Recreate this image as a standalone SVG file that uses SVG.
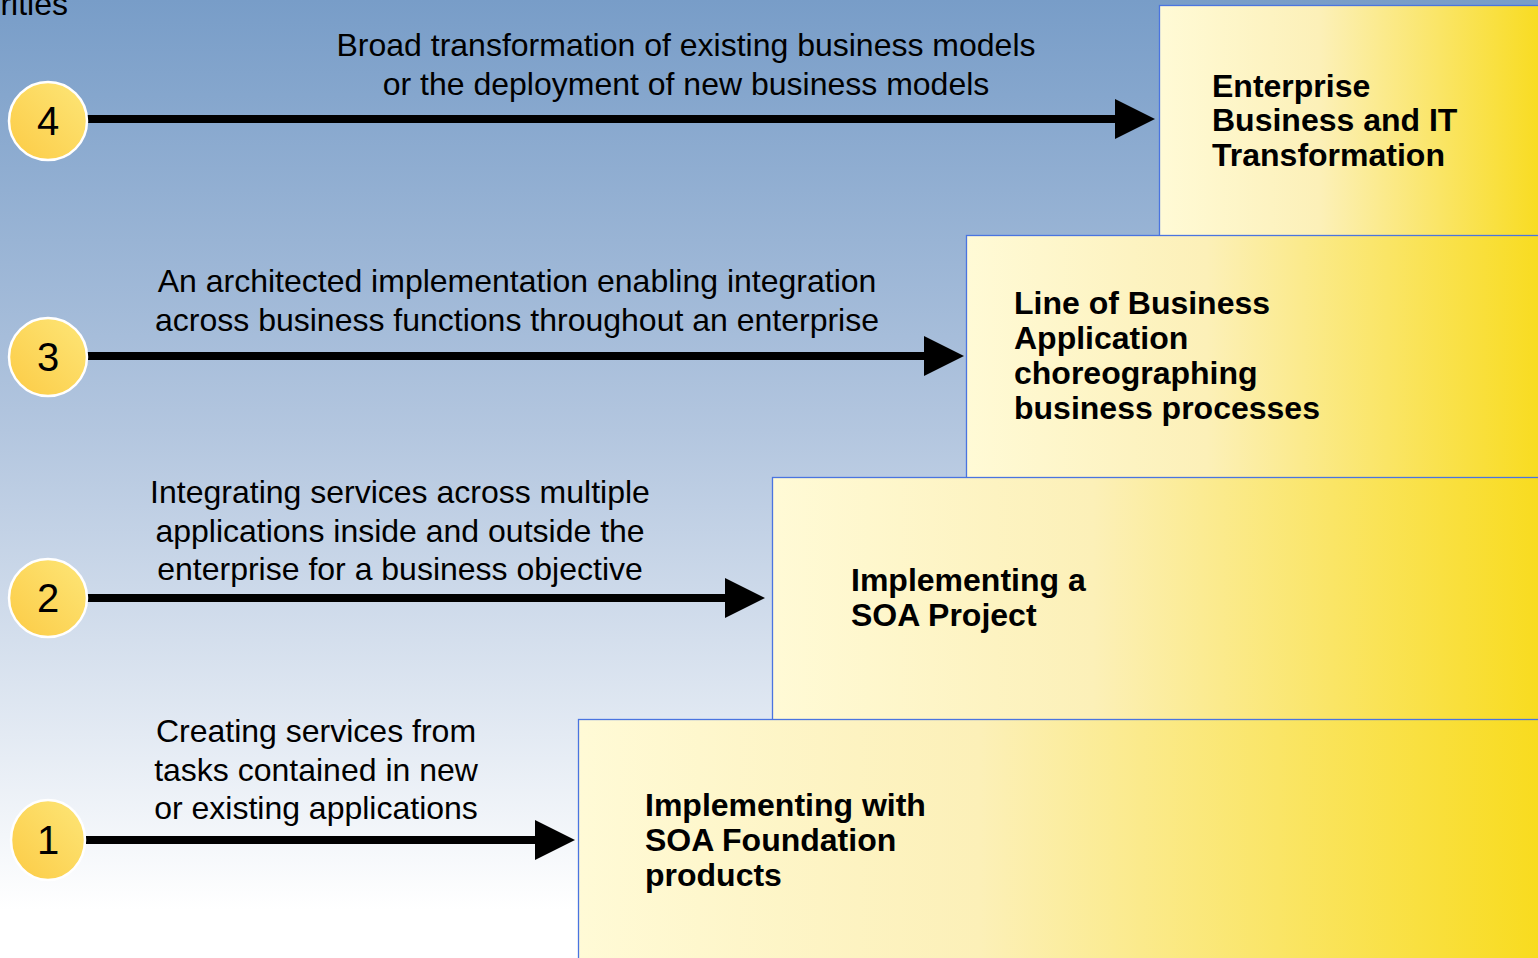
<svg xmlns="http://www.w3.org/2000/svg" width="1538" height="958" viewBox="0 0 1538 958">
<defs>
<linearGradient id="bg" x1="0" y1="0" x2="0" y2="1">
<stop offset="0" stop-color="#789dc8"/>
<stop offset="0.45" stop-color="#b3c6df"/>
<stop offset="0.95" stop-color="#ffffff"/>
</linearGradient>
<linearGradient id="box" x1="0" y1="0" x2="1" y2="0">
<stop offset="0" stop-color="#fffad6"/>
<stop offset="0.4" stop-color="#fcf0b8"/>
<stop offset="1" stop-color="#f8da14"/>
</linearGradient>
<linearGradient id="circ" x1="1" y1="0" x2="0" y2="1">
<stop offset="0" stop-color="#fde678"/>
<stop offset="1" stop-color="#fccb45"/>
</linearGradient>
<marker id="ah" markerUnits="userSpaceOnUse" markerWidth="42" markerHeight="42" refX="20" refY="20" orient="auto">
<path d="M0,0 L40,20 L0,40 Z" fill="#000"/>
</marker>
<style>
.box{fill:url(#box);stroke:#4a74e0;stroke-width:1.3}
.circ{fill:url(#circ);stroke:#fff;stroke-width:2.5}
.num{font-family:"Liberation Sans",Arial,sans-serif;font-size:40px;text-anchor:middle;fill:#000}
.lbl{font-family:"Liberation Sans",Arial,sans-serif;font-size:32px;text-anchor:middle;fill:#000}
.bt{font-family:"Liberation Sans",Arial,sans-serif;font-size:32px;font-weight:bold;fill:#000}
.arr{stroke:#000;stroke-width:8;fill:none;marker-end:url(#ah)}
</style>
</defs>
<rect x="0" y="0" width="1538" height="958" fill="url(#bg)"/>
<text x="68" y="15" class="lbl" style="text-anchor:end">rities</text>

<g id="box4"><rect class="box" x="1159.5" y="5.5" width="400" height="990"/>
<text class="bt"><tspan x="1212" y="97">Enterprise</tspan><tspan x="1212" y="131">Business and IT</tspan><tspan x="1212" y="166">Transformation</tspan></text></g>
<g id="box3"><rect class="box" x="966.5" y="235.5" width="600" height="760"/>
<text class="bt"><tspan x="1014" y="314">Line of Business</tspan><tspan x="1014" y="349">Application</tspan><tspan x="1014" y="384">choreographing</tspan><tspan x="1014" y="419">business processes</tspan></text></g>
<g id="box2"><rect class="box" x="772.5" y="477.5" width="800" height="520"/>
<text class="bt"><tspan x="851" y="591">Implementing a</tspan><tspan x="851" y="626">SOA Project</tspan></text></g>
<g id="box1"><rect class="box" x="578.5" y="719.5" width="1000" height="280"/>
<text class="bt"><tspan x="645" y="816">Implementing with</tspan><tspan x="645" y="851">SOA Foundation</tspan><tspan x="645" y="886">products</tspan></text></g>

<g id="connectors">
<line class="arr" x1="86" y1="119" x2="1135" y2="119"/>
<line class="arr" x1="86" y1="356" x2="944" y2="356"/>
<line class="arr" x1="86" y1="598" x2="745" y2="598"/>
<line class="arr" x1="86" y1="840" x2="555" y2="840"/>
</g>

<g id="label4"><text class="lbl"><tspan x="686" y="56">Broad transformation of existing business models</tspan><tspan x="686" y="95">or the deployment of new business models</tspan></text></g>
<g id="label3"><text class="lbl"><tspan x="517" y="292">An architected implementation enabling integration</tspan><tspan x="517" y="331">across business functions throughout an enterprise</tspan></text></g>
<g id="label2"><text class="lbl"><tspan x="400" y="503">Integrating services across multiple</tspan><tspan x="400" y="542">applications inside and outside the</tspan><tspan x="400" y="580">enterprise for a business objective</tspan></text></g>
<g id="label1"><text class="lbl"><tspan x="316" y="742">Creating services from</tspan><tspan x="316" y="781">tasks contained in new</tspan><tspan x="316" y="819">or existing applications</tspan></text></g>

<g id="n4"><circle class="circ" cx="48" cy="121" r="39"/><text class="num" x="48" y="135">4</text></g>
<g id="n3"><circle class="circ" cx="48" cy="357" r="39"/><text class="num" x="48" y="371">3</text></g>
<g id="n2"><circle class="circ" cx="48" cy="598" r="39"/><text class="num" x="48" y="612">2</text></g>
<g id="n1"><ellipse class="circ" cx="48" cy="840" rx="37" ry="40"/><text class="num" x="48" y="854">1</text></g>
</svg>
